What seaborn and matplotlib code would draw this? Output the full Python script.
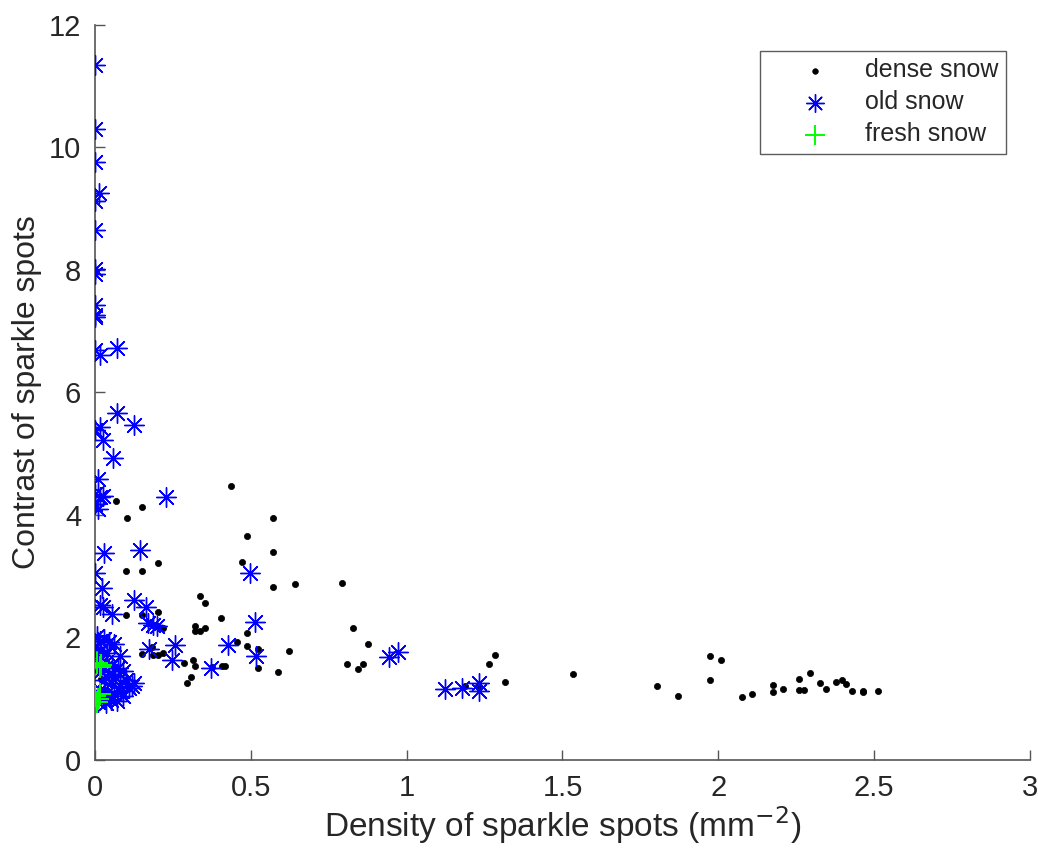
import matplotlib
matplotlib.use("Agg")
import matplotlib.pyplot as plt
import seaborn as sns
import pandas as pd
from matplotlib import font_manager

# ---------------- data ----------------
dense_x = [0.438, 0.067, 0.152, 0.102, 0.572, 0.489, 0.572, 0.473, 0.202, 0.100,
           0.152, 0.572, 0.642, 0.793, 0.337, 0.354, 0.202, 0.404, 0.100, 0.152,
           0.321, 0.337, 0.354, 0.321, 0.489, 0.219, 0.827, 0.455, 0.489, 0.524,
           0.877, 0.623, 0.524, 0.586, 0.152, 0.182, 0.187, 0.201, 0.219, 0.286,
           0.315, 0.321, 0.308, 0.294, 0.406, 0.417, 0.374, 0.810, 0.843, 0.861,
           1.282, 1.265, 1.315, 1.187, 1.230, 1.535, 1.804, 1.869, 1.973, 2.007,
           1.973, 2.075, 2.108, 2.174, 2.174, 2.208, 2.260, 2.260, 2.276, 2.294,
           2.327, 2.344, 2.377, 2.396, 2.411, 2.428, 2.463, 2.463, 2.513,
           0.020, 0.030, 0.010, 0.050]
dense_y = [4.47, 4.23, 4.13, 3.95, 3.95, 3.65, 3.40, 3.23, 3.21, 3.09,
           3.09, 2.82, 2.87, 2.89, 2.68, 2.56, 2.42, 2.31, 2.37, 2.36,
           2.19, 2.11, 2.16, 2.11, 2.08, 2.15, 2.15, 1.93, 1.86, 1.81,
           1.89, 1.78, 1.50, 1.44, 1.73, 1.85, 1.71, 1.71, 1.75, 1.58,
           1.63, 1.53, 1.36, 1.25, 1.53, 1.53, 1.52, 1.56, 1.48, 1.57,
           1.72, 1.56, 1.28, 1.21, 1.21, 1.40, 1.20, 1.05, 1.69, 1.64,
           1.31, 1.03, 1.08, 1.22, 1.11, 1.16, 1.32, 1.14, 1.14, 1.42,
           1.26, 1.16, 1.28, 1.30, 1.24, 1.13, 1.13, 1.11, 1.12,
           1.32, 1.15, 1.45, 1.05]

old_x = [0.000, 0.000, 0.000, 0.014, 0.000, 0.000, 0.000, 0.000, 0.000, 0.000,
         0.000, 0.000, 0.016, 0.072, 0.072, 0.000, 0.016, 0.126, 0.025, 0.059,
         0.010, 0.000, 0.016, 0.025, 0.000, 0.010, 0.228, 0.029, 0.144, 0.000,
         0.497, 0.021, 0.016, 0.025, 0.054, 0.126, 0.164, 0.171, 0.198, 0.185,
         0.515, 0.174, 0.257, 0.246, 0.426, 0.516, 0.371, 0.126, 0.944, 0.973,
         1.123, 1.178, 1.233, 1.233,
         0.005, 0.015, 0.030, 0.045, 0.060, 0.000, 0.020, 0.040, 0.080, 0.010,
         0.035, 0.055, 0.075, 0.090, 0.020, 0.045, 0.065, 0.100, 0.030, 0.050,
         0.080, 0.110, 0.015, 0.040, 0.060, 0.090, 0.025, 0.050, 0.070, 0.035,
         0.010, 0.085, 0.120]
old_y = [11.35, 10.30, 9.77, 9.26, 9.12, 8.65, 8.01, 7.93, 7.43, 7.27,
         7.23, 6.70, 6.61, 6.73, 5.66, 5.39, 5.44, 5.47, 5.22, 4.93,
         4.58, 4.34, 4.29, 4.31, 4.18, 4.10, 4.29, 3.38, 3.43, 3.06,
         3.05, 2.80, 2.53, 2.50, 2.39, 2.61, 2.50, 2.23, 2.18, 2.20,
         2.26, 1.82, 1.88, 1.64, 1.88, 1.69, 1.50, 1.25, 1.68, 1.77,
         1.16, 1.17, 1.25, 1.13,
         2.02, 1.95, 1.98, 1.92, 1.90, 1.85, 1.80, 1.75, 1.70, 1.65,
         1.60, 1.55, 1.50, 1.45, 1.45, 1.40, 1.35, 1.30, 1.30, 1.25,
         1.20, 1.18, 1.15, 1.10, 1.08, 1.05, 1.02, 0.98, 0.96, 0.93,
         0.95, 1.12, 1.20]

fresh_x = [0.005, 0.020, 0.015, 0.000, 0.010, 0.005, 0.015]
fresh_y = [1.58, 1.55, 1.52, 1.05, 1.00, 0.95, 1.08]

labels = ["dense snow", "old snow", "fresh snow"]
x_ticks = [0, 0.5, 1, 1.5, 2, 2.5, 3]
x_tick_labels = ["0", "0.5", "1", "1.5", "2", "2.5", "3"]
y_ticks = [0, 2, 4, 6, 8, 10, 12]

# ---------------- style ----------------
sns.set_theme(style="white")
avail = {f.name for f in font_manager.fontManager.ttflist}
fam = [f for f in ["Liberation Sans Narrow", "Liberation Sans", "DejaVu Sans"] if f in avail]
plt.rcParams["font.family"] = fam

axis_col = "#262626"

fig = plt.figure(figsize=(10.38, 8.60), dpi=100)
ax = fig.add_axes([0.0915, 0.1163, 0.9008, 0.8547])

df_dense = pd.DataFrame({"x": dense_x, "y": dense_y})
df_old = pd.DataFrame({"x": old_x, "y": old_y})
df_fresh = pd.DataFrame({"x": fresh_x, "y": fresh_y})

sns.scatterplot(data=df_dense, x="x", y="y", ax=ax, marker="o", s=20,
                color="black", edgecolor="black", linewidth=0.5,
                label=labels[0], zorder=3)
sns.scatterplot(data=df_old, x="x", y="y", ax=ax, marker=(8, 2, 0), s=200,
                color="blue", edgecolor="blue", linewidth=1.0,
                label=labels[1], zorder=3)
sns.scatterplot(data=df_fresh, x="x", y="y", ax=ax, marker="+", s=260,
                color="#00ff00", linewidth=1.4,
                label=labels[2], zorder=3)

ax.set_xlim(0, 3)
ax.set_ylim(0, 12)
ax.set_xticks(x_ticks)
ax.set_xticklabels(x_tick_labels)
ax.set_yticks(y_ticks)

for side in ["top", "right"]:
    ax.spines[side].set_visible(False)
for side in ["left", "bottom"]:
    ax.spines[side].set_color("#555555")
    ax.spines[side].set_linewidth(1.2)

ax.tick_params(axis="both", direction="in", length=7, width=1.0,
               colors="#555555", labelcolor=axis_col, labelsize=21,
               bottom=True, left=True, pad=10)

ax.set_xlabel(r"Density of sparkle spots (mm$^{-2}$)", fontsize=24,
              color=axis_col, labelpad=2)
ax.set_ylabel("Contrast of sparkle spots", fontsize=23, color=axis_col,
              labelpad=5)

leg = ax.legend(loc="upper right", bbox_to_anchor=(0.974, 0.965), fontsize=18,
                frameon=True, fancybox=False, edgecolor="#333333",
                borderaxespad=0.0, borderpad=0.3, handletextpad=0.1,
                labelspacing=0.32, handlelength=3.8, markerscale=0.9)
leg.get_frame().set_linewidth(1.0)
for t in leg.get_texts():
    t.set_color(axis_col)

fig.savefig("out.png", dpi=100)
